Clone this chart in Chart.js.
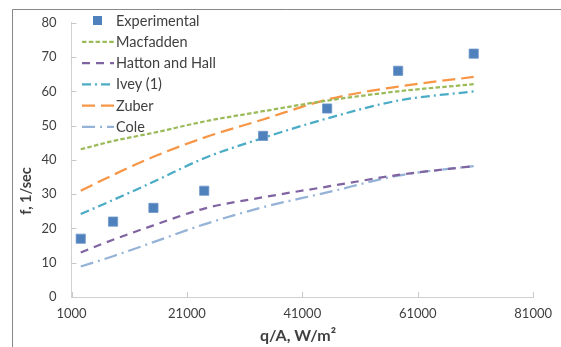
<!DOCTYPE html>
<html><head><meta charset="utf-8">
<script src="https://cdn.jsdelivr.net/npm/chart.js@4.4.1/dist/chart.umd.min.js"></script>
<style>html,body{margin:0;padding:0;background:#fff;overflow:hidden}#wrap{position:absolute;left:0;top:0;width:561px;height:347px}</style>
</head><body><div id="wrap"><canvas id="c" width="561" height="347"></canvas></div>
<script>
// ---- data ----
const qA = [2600, 8200, 15200, 24000, 34200, 45300, 57600, 70700];
const experimental = [17, 22, 26, 31, 47, 55, 66, 71];
const macfadden = [43.1, 45.5, 47.9, 51.2, 54.2, 57.3, 60.0, 62.1];
const hattonHall = [13.0, 16.7, 20.9, 25.8, 29.1, 32.2, 35.6, 38.2];
const ivey = [24.2, 28.3, 33.6, 40.5, 46.4, 52.1, 57.3, 60.0];
const zuber = [31.0, 35.6, 40.9, 46.5, 51.8, 57.6, 61.4, 64.2];
const cole = [8.9, 11.9, 16.0, 21.2, 26.2, 30.5, 35.4, 38.2];
const xTicks = [1000, 21000, 41000, 61000, 81000];
const yTicks = [0, 10, 20, 30, 40, 50, 60, 70, 80];
const seriesNames = ['Experimental', 'Macfadden', 'Hatton and Hall', 'Ivey (1)', 'Zuber', 'Cole'];
const xTitle = 'q/A, W/m\u00B2';
const yTitle = 'f, 1/sec';

const pts = vals => qA.map((x, i) => ({x: x, y: vals[i]}));
const FONT = 'Lato, "Open Sans", sans-serif';
const TXT = '#404040';

function lineDs(label, vals, color, dash) {
  return {label, data: pts(vals), showLine: true, borderColor: color, backgroundColor: color,
    borderWidth: 2.25, borderDash: dash, borderCapStyle: 'butt', pointRadius: 0, pointHoverRadius: 0,
    tension: 0.4, cubicInterpolationMode: 'monotone', fill: false};
}

const datasets = [
  {label: seriesNames[0], data: pts(experimental), showLine: false, pointStyle: 'rect',
   pointRadius: 6.5, backgroundColor: '#4F81BD', borderColor: '#6F97C9', borderWidth: 0.8},
  lineDs(seriesNames[1], macfadden, '#9BBB59', [4.5, 2.3]),
  lineDs(seriesNames[2], hattonHall, '#8064A2', [8, 6]),
  lineDs(seriesNames[3], ivey, '#4BACC6', [9, 4, 2, 4]),
  lineDs(seriesNames[4], zuber, '#F79646', [13, 6]),
  lineDs(seriesNames[5], cole, '#95B3D7', [13, 5, 2, 5])
];

const decor = {
  id: 'decor',
  beforeDraw(chart) {
    const ctx = chart.ctx;
    ctx.save();
    ctx.fillStyle = '#fff';
    ctx.fillRect(0, 0, chart.width, chart.height);
    ctx.strokeStyle = '#878787';
    ctx.lineWidth = 1;
    ctx.beginPath();
    ctx.moveTo(12.5, chart.height);
    ctx.lineTo(12.5, 9.5);
    ctx.lineTo(chart.width, 9.5);
    ctx.stroke();
    ctx.restore();
  },
  afterDraw(chart) {
    const ctx = chart.ctx;
    const xs = chart.scales.x, ys = chart.scales.y;
    const ca = chart.chartArea;
    ctx.save();
    // inside tick marks
    ctx.strokeStyle = '#C8C8C8';
    ctx.lineWidth = 1;
    ctx.beginPath();
    xTicks.forEach(v => {
      const px = Math.round(xs.getPixelForValue(v)) + 0.5;
      ctx.moveTo(px, ca.bottom); ctx.lineTo(px, ca.bottom - 5);
    });
    yTicks.forEach(v => {
      const py = Math.round(ys.getPixelForValue(v)) + 0.5;
      ctx.moveTo(ca.left, py); ctx.lineTo(ca.left + 5, py);
    });
    ctx.stroke();
    // axis titles
    ctx.fillStyle = TXT;
    ctx.font = 'bold 16px ' + FONT;
    ctx.textAlign = 'center';
    ctx.textBaseline = 'middle';
    ctx.fillText(xTitle, 298, 336);
    ctx.save();
    ctx.translate(26, 191);
    ctx.rotate(-Math.PI / 2);
    ctx.font = 'bold 14.5px ' + FONT;
    ctx.fillText(yTitle, 0, 0);
    ctx.restore();
    // legend
    ctx.font = '14.5px ' + FONT;
    ctx.textAlign = 'left';
    chart.data.datasets.forEach((ds, i) => {
      const y = 20.5 + i * 21.25;
      if (ds.showLine) {
        ctx.save();
        ctx.strokeStyle = ds.borderColor;
        ctx.lineWidth = ds.borderWidth;
        ctx.setLineDash(ds.borderDash || []);
        ctx.lineCap = 'butt';
        ctx.beginPath();
        ctx.moveTo(82, y); ctx.lineTo(114, y);
        ctx.stroke();
        ctx.restore();
      } else {
        ctx.fillStyle = ds.backgroundColor;
        ctx.fillRect(93, y - 4.5, 9, 9);
      }
      ctx.fillStyle = TXT;
      ctx.fillText(ds.label, 116, y + 0.5);
    });
    ctx.restore();
  }
};

new Chart(document.getElementById('c'), {
  type: 'scatter',
  data: {datasets},
  plugins: [decor],
  options: {
    responsive: false, animation: false, devicePixelRatio: 1,
    layout: {padding: {left: 0, top: 21, right: 24, bottom: 0}},
    plugins: {legend: {display: false}, tooltip: {enabled: false}},
    scales: {
      x: {type: 'linear', min: 1000, max: 81000,
        afterBuildTicks: s => { s.ticks = xTicks.map(v => ({value: v})); },
        afterFit: s => { s.height = 50; },
        grid: {display: true, drawOnChartArea: false, drawTicks: false},
        border: {display: true, color: '#D0D0D0', width: 1},
        ticks: {padding: 9, color: TXT, font: {family: FONT, size: 13}, maxRotation: 0,
          callback: v => String(v)}
      },
      y: {type: 'linear', min: 0, max: 80,
        afterBuildTicks: s => { s.ticks = yTicks.map(v => ({value: v})); },
        afterFit: s => { s.width = 71.5; },
        grid: {display: true, drawOnChartArea: false, drawTicks: false},
        border: {display: true, color: '#D0D0D0', width: 1},
        ticks: {padding: 15, color: TXT, font: {family: FONT, size: 13}, callback: v => String(v)}
      }
    }
  }
});
</script></body></html>
